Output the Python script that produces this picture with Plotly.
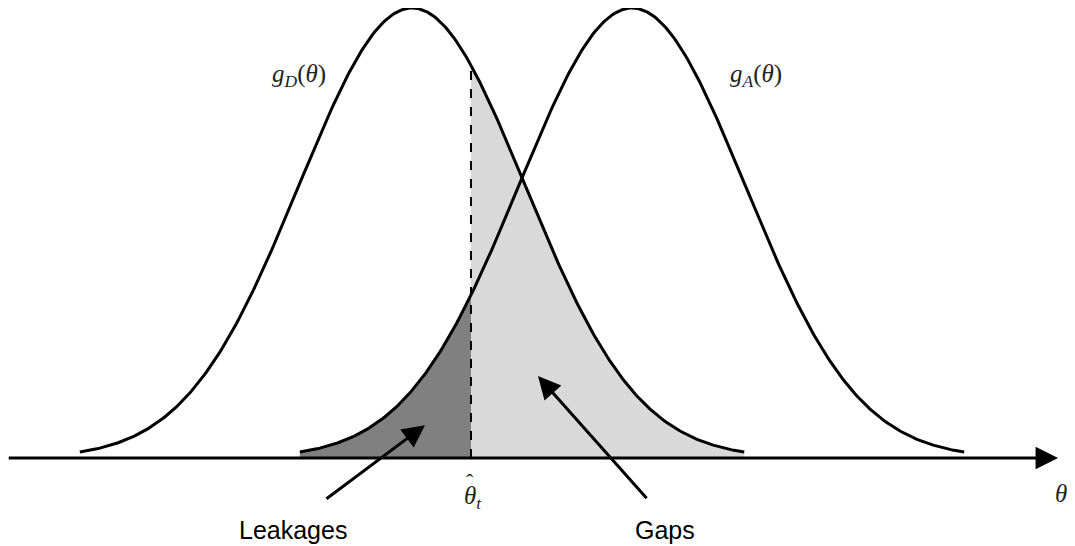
import numpy as np
import plotly.graph_objects as go

# Curve parameters (theta units, peak height normalised to 1)
mu_leak = -1.0        # centre of g_D
mu_attack = 1.0       # centre of g_A
sigma = 1.027
half_span = 3.02      # curves drawn from mu - half_span to mu + half_span
theta_t = -0.464      # threshold (dashed line)

curve_names = ['g_D', 'g_A']
curve_labels = ['<i>g</i><sub><i>D</i></sub>(<i>θ</i>)', '<i>g</i><sub><i>A</i></sub>(<i>θ</i>)']
curve_label_pos = [(-2.027, 0.851), (2.127, 0.851)]

region_labels = ['Leakages', 'Gaps']
region_label_pos = [(-2.082, -0.16), (1.30, -0.16)]
region_arrow_tail = [(-1.791, -0.093), (1.145, -0.093)]
region_arrow_head = [(-0.882, 0.073), (0.145, 0.182)]


def gauss(x, mu):
    return np.exp(-(x - mu) ** 2 / (2 * sigma ** 2))


fig = go.Figure()

# dark region: under g_A left of threshold
xa = np.linspace(mu_attack - half_span, theta_t, 200)
fig.add_trace(go.Scatter(x=np.r_[xa, theta_t, xa[0]], y=np.r_[gauss(xa, mu_attack), 0, 0],
                         fill='toself', fillcolor='#808080', line=dict(width=0),
                         mode='lines', hoverinfo='skip', showlegend=False))

# light region: under g_D right of threshold
xd = np.linspace(theta_t, mu_leak + half_span, 300)
fig.add_trace(go.Scatter(x=np.r_[xd, xd[-1], theta_t], y=np.r_[gauss(xd, mu_leak), 0, 0],
                         fill='toself', fillcolor='#d9d9d9', line=dict(width=0),
                         mode='lines', hoverinfo='skip', showlegend=False))

# the two curves
for name, mu in zip(curve_names, [mu_leak, mu_attack]):
    xs = np.linspace(mu - half_span, mu + half_span, 400)
    fig.add_trace(go.Scatter(x=xs, y=gauss(xs, mu), mode='lines', name=name,
                             line=dict(color='black', width=3), showlegend=False))

# dashed threshold line
fig.add_trace(go.Scatter(x=[theta_t, theta_t], y=[0, gauss(theta_t, mu_leak)], mode='lines',
                         line=dict(color='black', width=2, dash='dash'), showlegend=False))

# horizontal axis with arrow
fig.add_annotation(x=4.873, y=0, ax=-4.68, ay=0, xref='x', yref='y', axref='x', ayref='y',
                   text='', showarrow=True, arrowhead=2, arrowsize=1.5, arrowwidth=3,
                   arrowcolor='black')

for (tx, ty), (hx, hy) in zip(region_arrow_tail, region_arrow_head):
    fig.add_annotation(x=hx, y=hy, ax=tx, ay=ty, xref='x', yref='y', axref='x', ayref='y',
                       text='', showarrow=True, arrowhead=2, arrowsize=1.5, arrowwidth=3,
                       arrowcolor='black')

math_font = dict(family='Liberation Serif', size=25, color='#222222')
for lab, (lx, ly) in zip(curve_labels, curve_label_pos):
    fig.add_annotation(x=lx, y=ly, text=lab, showarrow=False, font=math_font)

# threshold label: theta with a hat and subscript t
fig.add_annotation(x=-0.445, y=-0.087, text='<i>θ</i><sub><i>t</i></sub>',
                   showarrow=False, font=math_font)
fig.add_annotation(x=-0.475, y=-0.052, text='ˆ', showarrow=False,
                   font=dict(family='Liberation Serif', size=22, color='#222222'))
fig.add_annotation(x=4.90, y=-0.08, text='<i>θ</i>', showarrow=False, font=math_font)

for lab, (lx, ly) in zip(region_labels, region_label_pos):
    fig.add_annotation(x=lx, y=ly, text=lab, showarrow=False,
                       font=dict(family='Liberation Sans', size=25, color='black'))

# page has an 8px body margin: figure is made 8px smaller so it fits the window
fig.update_xaxes(range=[-4.673, 5.027], visible=False)
fig.update_yaxes(range=[-0.1956, 1.0], visible=False)
fig.update_layout(width=1067, height=538, margin=dict(l=0, r=0, t=0, b=0),
                  paper_bgcolor='white', plot_bgcolor='white')

fig.write_html("out.html")
